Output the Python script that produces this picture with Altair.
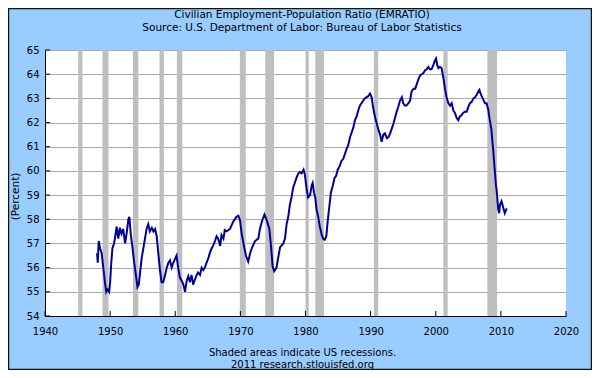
import altair as alt
import pandas as pd

# ---- data ----
years = [
    1948.0, 1948.1, 1948.25, 1948.45, 1948.7, 1948.95, 1949.2, 1949.4, 1949.6, 1949.85,
    1950.0, 1950.15, 1950.35, 1950.6, 1950.85, 1951.0, 1951.25, 1951.5, 1951.75, 1952.0,
    1952.3, 1952.55, 1952.8, 1952.95, 1953.2, 1953.45, 1953.7, 1953.95, 1954.2, 1954.4,
    1954.6, 1954.85, 1955.1, 1955.35, 1955.6, 1955.85, 1956.1, 1956.4, 1956.65, 1956.9,
    1957.15, 1957.4, 1957.65, 1957.9, 1958.15, 1958.4, 1958.7, 1958.95, 1959.2, 1959.45,
    1959.7, 1959.95, 1960.2, 1960.45, 1960.7, 1961.0, 1961.25, 1961.5, 1961.75, 1962.0,
    1962.25, 1962.5, 1962.75, 1963.0, 1963.3, 1963.5, 1963.8, 1964.05, 1964.3, 1964.55,
    1964.8, 1965.1, 1965.3, 1965.6, 1965.8, 1966.1, 1966.35, 1966.6, 1966.9, 1967.1,
    1967.4, 1967.6, 1967.9, 1968.4, 1968.9, 1969.4, 1969.7, 1969.95, 1970.2, 1970.55,
    1970.85, 1971.2, 1971.5, 1971.75, 1972.25, 1972.75, 1973.0, 1973.35, 1973.7, 1974.0,
    1974.45, 1974.7, 1974.95, 1975.2, 1975.55, 1975.8, 1976.1, 1976.6, 1976.85, 1977.1,
    1977.35, 1977.6, 1977.85, 1978.1, 1978.35, 1978.6, 1978.9, 1979.15, 1979.4, 1979.7,
    1979.9, 1980.2, 1980.4, 1980.7, 1980.95, 1981.1, 1981.3, 1981.5, 1981.7, 1981.95,
    1982.2, 1982.45, 1982.7, 1982.95, 1983.2, 1983.4, 1983.65, 1983.9, 1984.2, 1984.45,
    1984.7, 1984.95, 1985.25, 1985.5, 1985.8, 1986.05, 1986.3, 1986.55, 1986.85, 1987.1,
    1987.35, 1987.6, 1987.85, 1988.1, 1988.35, 1988.6, 1988.85, 1989.1, 1989.4, 1989.65,
    1989.9, 1990.15, 1990.4, 1990.7, 1990.95, 1991.2, 1991.45, 1991.7, 1991.95, 1992.2,
    1992.5, 1992.75, 1993.0, 1993.25, 1993.5, 1993.75, 1994.0, 1994.25, 1994.5, 1994.8,
    1995.0, 1995.25, 1995.5, 1995.8, 1996.05, 1996.3, 1996.6, 1996.85, 1997.1, 1997.35,
    1997.6, 1997.85, 1998.1, 1998.35, 1998.6, 1998.85, 1999.1, 1999.35, 1999.6, 1999.85,
    2000.05, 2000.25, 2000.4, 2000.65, 2000.9, 2001.2, 2001.45, 2001.7, 2001.95, 2002.2,
    2002.45, 2002.7, 2002.95, 2003.2, 2003.45, 2003.7, 2003.95, 2004.2, 2004.5, 2004.75,
    2005.0, 2005.25, 2005.5, 2005.8, 2006.05, 2006.3, 2006.55, 2006.7, 2006.95, 2007.3,
    2007.55, 2007.8, 2008.05, 2008.3, 2008.55, 2008.7, 2008.85, 2008.95, 2009.1, 2009.25,
    2009.35, 2009.5, 2009.6, 2009.75, 2009.85, 2010.1, 2010.4, 2010.6, 2010.9,
]
ratio = [
    56.6, 56.2, 57.1, 56.8, 56.6, 56.0, 55.4, 55.0, 55.1, 55.0,
    55.4, 56.1, 56.8, 57.0, 57.4, 57.7, 57.2, 57.65, 57.4, 57.6,
    57.0, 57.45, 58.0, 58.1, 57.3, 56.8, 56.2, 55.7, 55.2, 55.3,
    55.8, 56.4, 56.8, 57.2, 57.6, 57.8, 57.5, 57.65, 57.5, 57.6,
    57.3, 56.6, 55.9, 55.4, 55.4, 55.65, 56.0, 56.2, 56.3, 56.0,
    56.2, 56.35, 56.5, 56.0, 55.6, 55.45, 55.3, 55.0, 55.45, 55.65,
    55.4, 55.7, 55.3, 55.5, 55.7, 55.8, 55.7, 56.0, 55.9, 56.0,
    56.2, 56.4, 56.6, 56.8, 56.9, 57.1, 57.3, 57.2, 56.9, 57.35,
    57.2, 57.55, 57.5, 57.6, 57.9, 58.1, 58.15, 57.95, 57.4, 56.9,
    56.5, 56.25, 56.6, 56.8, 57.1, 57.2, 57.6, 57.95, 58.2, 58.0,
    57.6, 56.9, 56.05, 55.85, 56.0, 56.4, 56.85, 57.0, 57.2, 57.8,
    58.1, 58.6, 58.9, 59.3, 59.5, 59.7, 59.9, 59.95, 59.9, 60.05,
    59.85, 59.2, 58.9, 59.0, 59.4, 59.5, 59.1, 58.9, 58.4, 58.1,
    57.7, 57.4, 57.2, 57.15, 57.3, 57.9, 58.5, 59.1, 59.4, 59.7,
    59.8, 60.05, 60.2, 60.4, 60.5, 60.7, 60.9, 61.05, 61.4, 61.6,
    61.8, 62.1, 62.25, 62.5, 62.7, 62.8, 62.9, 63.0, 63.05, 63.1,
    63.2, 63.05, 62.6, 62.2, 61.95, 61.7, 61.5, 61.2, 61.5, 61.55,
    61.35, 61.4, 61.55, 61.75, 61.95, 62.2, 62.45, 62.65, 62.9, 63.05,
    62.8, 62.7, 62.7, 62.8, 62.9, 63.3, 63.4, 63.4, 63.6, 63.8,
    63.95, 64.0, 64.05, 64.15, 64.2, 64.3, 64.2, 64.2, 64.35, 64.55,
    64.65, 64.35, 64.25, 64.3, 64.25, 63.8, 63.35, 63.0, 62.8, 62.7,
    62.8, 62.5, 62.4, 62.2, 62.1, 62.25, 62.3, 62.4, 62.45, 62.45,
    62.65, 62.8, 62.85, 63.0, 63.05, 63.15, 63.3, 63.35, 63.15, 62.95,
    62.8, 62.8, 62.55, 62.1, 61.7, 61.2, 60.8, 60.4, 59.9, 59.4,
    59.2, 58.7, 58.4, 58.25, 58.6, 58.75, 58.45, 58.25, 58.45,
]

rec_start = [1945.1, 1948.83, 1953.5, 1957.58, 1960.25, 1969.92, 1973.83, 1980.0, 1981.5, 1990.5, 2001.17, 2007.92]
rec_end = [1945.75, 1949.75, 1954.33, 1958.25, 1961.08, 1970.83, 1975.17, 1980.5, 1982.83, 1991.17, 2001.83, 2009.42]

x_ticks = [1940, 1950, 1960, 1970, 1980, 1990, 2000, 2010, 2020]
y_ticks = [54, 55, 56, 57, 58, 59, 60, 61, 62, 63, 64, 65]

title_lines = ["Civilian Employment-Population Ratio (EMRATIO)",
               "Source: U.S. Department of Labor: Bureau of Labor Statistics"]
footer_lines = ["Shaded areas indicate US recessions.", "2011 research.stlouisfed.org"]
y_title = "(Percent)"

# ---- layout / style ----
W, H = 521, 266
FONT = "DejaVu Sans"
BG = "#99ccff"

xscale = alt.Scale(domain=[1940, 2020], nice=False, zero=False)
yscale = alt.Scale(domain=[54, 65], nice=False, zero=False)

line_df = pd.DataFrame({"year": years, "ratio": ratio})
rec_df = pd.DataFrame({"start": rec_start, "end": rec_end})
xt_df = pd.DataFrame({"t": x_ticks})
yt_df = pd.DataFrame({"v": y_ticks})

x_axis = alt.Axis(
    values=x_ticks, format="d", grid=False, ticks=False,
    domain=True, domainColor="black", domainWidth=1,
    labelFont=FONT, labelFontSize=10, labelColor="black", labelPadding=10,
    labelFlush=False,
    title=footer_lines, titleFont=FONT, titleFontSize=10, titleFontWeight="normal",
    titleColor="black", titleBaseline="top", titleAlign="center",
    titleX=257, titleY=31, titleLineHeight=12.5,
)
y_axis = alt.Axis(
    values=y_ticks, grid=True, gridColor="#aaaaaa", gridWidth=1,
    ticks=False, domain=True, domainColor="black", domainWidth=1,
    labelFont=FONT, labelFontSize=10, labelColor="black", labelPadding=6,
    labelFlush=False,
    title=y_title, titleFont=FONT, titleFontSize=10.5, titleFontWeight="normal",
    titleColor="black", titleAngle=270, titleAlign="center", titleBaseline="middle",
    titleX=-30, titleY=146,
)

rec = alt.Chart(rec_df).mark_rect(color="#bebebe").encode(
    x=alt.X("start:Q", scale=xscale, axis=x_axis),
    x2="end:Q",
    y=alt.value(0),
    y2=alt.value(H),
)

line = alt.Chart(line_df).mark_line(color="#000099", strokeWidth=2).encode(
    x=alt.X("year:Q", scale=xscale, axis=x_axis),
    y=alt.Y("ratio:Q", scale=yscale, axis=y_axis),
)

xt = alt.Chart(xt_df).mark_rule(color="black", strokeWidth=1).encode(
    x=alt.X("t:Q", scale=xscale, axis=x_axis),
    y=alt.value(H),
    y2=alt.value(H - 5),
)

yt = alt.Chart(yt_df).mark_rule(color="black", strokeWidth=1).encode(
    y=alt.Y("v:Q", scale=yscale, axis=y_axis),
    x=alt.value(0),
    x2=alt.value(5),
)

title_txt = alt.Chart(pd.DataFrame({"t": ["\n".join(title_lines)]})).mark_text(
    font=FONT, fontSize=10.5, color="black", lineBreak="\n", lineHeight=12.5,
    baseline="top", align="center",
).encode(text="t:N", x=alt.value(257), y=alt.value(-40))

frame = alt.Chart(pd.DataFrame({"f": [0]})).mark_rect(
    filled=False, stroke="#111111", strokeWidth=1.5
).encode(
    x=alt.value(-36.5), x2=alt.value(546.5), y=alt.value(-41.5), y2=alt.value(319.5)
)

chart = alt.layer(rec, line, xt, yt, title_txt, frame).properties(
    width=W, height=H,
    padding={"left": 37, "top": 42, "right": 26, "bottom": 54},
    autosize=alt.AutoSizeParams(type="none"),
    background=BG,
).configure_view(fill="white", stroke=None)

chart.save("out.html", embed_options={"renderer": "svg", "actions": False})
